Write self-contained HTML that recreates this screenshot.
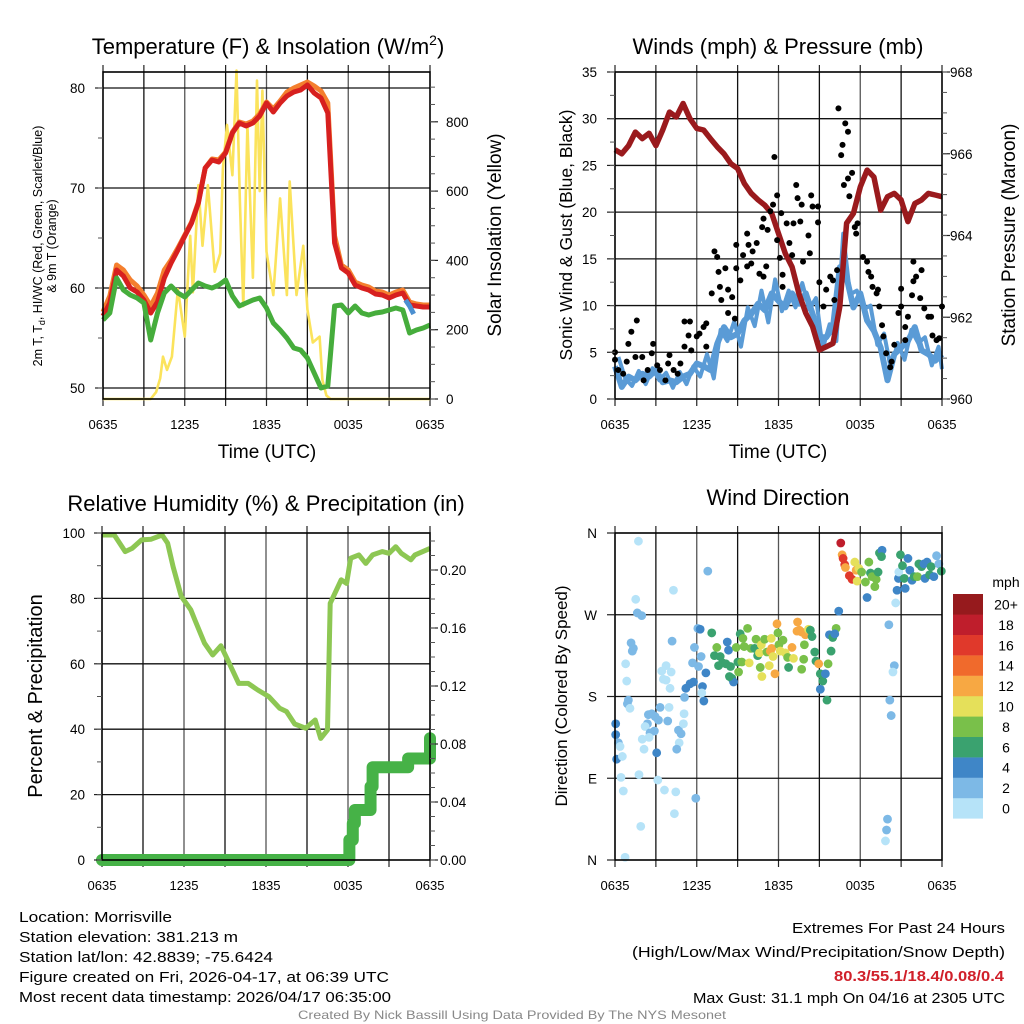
<!DOCTYPE html>
<html><head><meta charset="utf-8"><title>Mesonet Station Plot</title>
<style>
html,body{margin:0;padding:0;background:#fff;}
svg{display:block;font-family:"Liberation Sans",Arial,sans-serif;}
</style></head>
<body>
<svg id="chart" width="1024" height="1024" viewBox="0 0 1024 1024" xmlns="http://www.w3.org/2000/svg">
<rect x="0" y="0" width="1024" height="1024" fill="#fff"/>
<text x="268" y="54" font-size="22" text-anchor="middle">Temperature (F) &amp; Insolation (W/m<tspan font-size="14" dy="-9">2</tspan><tspan dy="9">)</tspan></text>
<text x="778" y="54" font-size="22" text-anchor="middle">Winds (mph) &amp; Pressure (mb)</text>
<text x="266" y="511" font-size="22" text-anchor="middle">Relative Humidity (%) &amp; Precipitation (in)</text>
<text x="778" y="505" font-size="22" text-anchor="middle">Wind Direction</text>
<text transform="translate(42,246) rotate(-90)" font-size="12.5" text-anchor="middle">2m T, T<tspan font-size="9" dy="3">d</tspan><tspan dy="-3">, HI/WC (Red, Green, Scarlet/Blue)</tspan></text>
<text transform="translate(56,246) rotate(-90)" font-size="12.5" text-anchor="middle">&amp; 9m T (Orange)</text>
<text transform="translate(501,235) rotate(-90)" font-size="19" text-anchor="middle">Solar Insolation (Yellow)</text>
<text x="267" y="458" font-size="19" text-anchor="middle">Time (UTC)</text>
<text transform="translate(572,235) rotate(-90)" font-size="17.5" text-anchor="middle">Sonic Wind &amp; Gust (Blue, Black)</text>
<text transform="translate(1015,235) rotate(-90)" font-size="19" text-anchor="middle">Station Pressure (Maroon)</text>
<text x="778" y="458" font-size="19" text-anchor="middle">Time (UTC)</text>
<text transform="translate(42,696) rotate(-90)" font-size="20" text-anchor="middle">Percent &amp; Precipitation</text>
<text transform="translate(567,696) rotate(-90)" font-size="17" text-anchor="middle">Direction (Colored By Speed)</text>
<text x="1006" y="587" font-size="14" text-anchor="middle">mph</text>
<g font-size="14.5">
<text x="19" y="922" textLength="153" lengthAdjust="spacingAndGlyphs">Location: Morrisville</text>
<text x="19" y="942" textLength="219" lengthAdjust="spacingAndGlyphs">Station elevation: 381.213 m</text>
<text x="19" y="962" textLength="254" lengthAdjust="spacingAndGlyphs">Station lat/lon: 42.8839; -75.6424</text>
<text x="19" y="982" textLength="370" lengthAdjust="spacingAndGlyphs">Figure created on Fri, 2026-04-17, at 06:39 UTC</text>
<text x="19" y="1002" textLength="372" lengthAdjust="spacingAndGlyphs">Most recent data timestamp: 2026/04/17 06:35:00</text>
</g>
<g font-size="14.5">
<text x="792" y="933" textLength="213" lengthAdjust="spacingAndGlyphs">Extremes For Past 24 Hours</text>
<text x="632" y="957" textLength="373" lengthAdjust="spacingAndGlyphs">(High/Low/Max Wind/Precipitation/Snow Depth)</text>
<text x="834" y="981" textLength="170" lengthAdjust="spacingAndGlyphs" font-weight="bold" fill="#d0202a">80.3/55.1/18.4/0.08/0.4</text>
<text x="693" y="1003" textLength="312" lengthAdjust="spacingAndGlyphs">Max Gust: 31.1 mph On 04/16 at 2305 UTC</text>
</g>
<text x="512" y="1019" font-size="12" fill="#888" text-anchor="middle" textLength="428" lengthAdjust="spacingAndGlyphs">Created By Nick Bassill Using Data Provided By The NYS Mesonet</text>
</svg>
<script>
var halfHours = [0,0.5,1,1.5,2,2.5,3,3.5,4,4.5,5,5.5,6,6.5,7,7.5,8,8.5,9,9.5,10,10.5,11,11.5,12,12.5,13,13.5,14,14.5,15,15.5,16,16.5,17,17.5,18,18.5,19,19.5,20,20.5,21,21.5,22,22.5,23,23.5,24];
var timeTickHours = [0,6,12,18,24];
var timeTickLabels = ["0635","1235","1835","0035","0635"];
var tempRed = [57.2,58.5,61.8,61.2,60.0,59.6,58.8,57.5,58.6,61,62.5,63.8,65.2,66.5,68.5,72,72.8,72.6,73.5,75.5,76.5,76.2,76.5,77.2,78.5,77.6,78.5,79.2,79.6,79.8,80.3,79.5,79.0,77.5,64.5,62,61.5,60.3,60,59.8,59.4,59.3,59.0,59.3,59.5,58.3,58.2,58.1,58.1];
var tempOrange = [57.6,59.2,62.3,61.8,60.8,60.2,59.3,58.2,59.5,61.8,62.8,64,65.3,66.6,68.6,72,72.9,72.8,73.6,75.6,76.6,76.4,76.7,77.4,78.6,77.9,78.7,79.6,80.0,80.3,80.6,80.2,79.7,78.5,65.2,62.3,61.8,60.6,60.3,60.1,59.7,59.6,59.3,59.6,59.8,58.6,58.4,58.3,58.3];
var dewGreen = [56.8,57.5,61,59.8,59.3,59.0,58.5,54.8,57.5,59.5,60.2,59.5,59.1,59.8,60.5,60.2,60.0,60.3,60.8,59.2,58.2,58.5,58.8,59.0,58.0,56.5,55.8,55.0,54.0,53.8,53.0,51.5,50.0,50.2,58.2,58.3,57.5,58.2,57.5,57.3,57.5,57.6,57.8,58,57.8,55.5,55.8,56,56.3];
var hiwcHours = [22.2,22.5,22.8];
var hiwcValues = [58.8,58.2,57.4];
var solarHours = [0,3.5,3.9,4.2,4.4,4.7,5.06,5.5,6.0,6.4,6.6,7.0,7.3,7.7,8.2,8.6,8.8,9.1,9.5,9.8,10.05,10.3,10.6,11.0,11.3,11.5,11.7,12.0,12.5,13.0,13.5,13.7,14.2,14.7,15.0,15.4,15.9,16.1,16.4,16.7,24];
var solarValues = [0,0,20,60,122,84,122,317,180,471,308,617,442,617,367,420,666,791,646,948,570,268,791,350,919,600,890,425,300,579,300,628,300,442,259,163,180,55,10,0,0];
var tempTicks = [50,60,70,80];
var solarTicks = [0,200,400,600,800];

var windBlue = [3.5,1.3,2.4,2.0,2.7,2.4,3.1,1.8,2.0,1.8,2.4,2.7,3.8,3.5,3.1,5.9,7.7,6.6,7.0,8.4,9.1,10.2,9.5,11.3,10.5,9.8,11.3,10.2,11.3,9.1,6.6,6.6,7.7,14.1,13,9.8,11.3,8.4,7.3,5.5,2.0,4.8,5.5,6.2,7.7,5.2,4.8,4.1,4.8];
var windBlueJitter = [4.5,2.2,1.4,3.0,1.6,3.3,2.0,2.8,1.2,2.9,1.6,3.5,2.4,4.8,2.2,7.4,6.2,8.3,5.6,9.8,7.8,11.6,8.2,12.8,9.4,11.6,9.8,12.4,9.6,10.8,5.4,8.0,6.2,17.7,11.2,11.6,9.6,10.0,5.8,7.0,3.2,6.0,4.2,7.4,6.0,6.6,3.6,5.6,3.2];
var pressure = [966.10,966.0,966.2,966.53,966.37,966.5,966.2,966.58,967.02,966.9,967.23,966.86,966.62,966.58,966.37,966.17,966.0,965.76,965.64,965.27,965.03,964.87,964.74,964.54,964.05,963.56,963.23,962.58,962.1,961.77,961.2,961.28,961.36,962.26,964.3,964.54,965.19,965.6,965.43,964.62,964.95,965.03,964.87,964.34,964.78,964.87,965.03,964.99,964.95];
var gustHours = [0,0,0.24,0.6,0.86,0.98,1.2,1.6,1.5,2.0,2.1,2.4,2.7,2.8,3.1,3.3,3.7,4.0,3.9,4.3,4.6,4.8,5.1,5.5,5.4,5.1,5.6,6.0,6.2,6.5,6.7,6.7,7.1,7.3,7.5,7.6,7.7,7.8,8.1,8.3,8.3,8.6,8.8,8.9,8.9,9.2,9.4,9.7,9.8,9.7,10.0,10.1,10.4,10.6,10.9,10.8,10.9,11.1,11.2,11.4,11.6,11.7,11.9,11.9,12.1,12.2,12.3,12.3,12.6,12.8,13.0,13.1,13.3,13.4,13.6,13.7,13.8,14.2,14.3,14.4,14.5,14.9,14.9,15.0,15.3,15.5,15.8,16.0,16.3,16.1,16.4,16.9,17.1,16.7,16.6,16.8,17.1,17.4,17.2,17.6,17.8,17.7,18.2,18.5,18.6,18.8,18.9,19.2,19.3,19.4,19.6,19.7,19.9,20.2,20.3,20.5,20.8,21.0,21.0,21.3,21.3,21.5,21.8,21.9,21.9,22.1,22.5,22.4,22.7,23.0,23.2,23.3,23.6,23.8,24.0];
var gustValues = [5.0,4.2,3.1,2.7,4.0,5.9,7.2,8.4,4.5,4.5,2.0,3.1,4.9,5.9,3.6,3.1,2.0,4.7,3.8,3.1,2.7,3.8,8.3,8.3,6.8,5.6,5.2,6.7,7.0,7.7,8.1,5.6,11.3,15.8,15.2,13.6,12.0,10.6,14.0,11.7,9.2,10.9,8.6,16.5,14.0,12.7,15.4,17.7,16.5,14.2,14.5,15.8,16.7,13.4,13.1,18.4,19.3,14.2,18.1,20.1,20.8,25.9,21.8,17.0,15.1,19.9,13.3,12.0,18.8,16.7,15.4,18.8,22.9,21.5,19.0,20.8,14.7,17.5,15.6,21.8,20.6,20.6,18.9,12.5,9.9,11.7,13.1,12.7,13.8,10.6,31.1,29.5,28.6,27.2,26.1,22.9,23.6,24.2,21.7,18.4,18.8,17.7,15.2,14.7,13.6,13.1,12.0,11.3,11.7,9.9,7.9,6.7,4.9,3.4,4.0,5.8,9.2,11.8,9.9,7.7,6.3,8.8,11.1,14.7,12.6,13.1,13.8,10.8,9.7,8.8,8.8,6.8,6.3,6.5,9.9];
var windTicks = [0,5,10,15,20,25,30,35];
var pressureTicks = [960,962,964,966,968];

var rhHours = [0,0.9,1.7,2.2,2.9,3.6,4.4,4.8,5.2,5.8,6.5,6.8,7.5,8.1,8.7,9.2,10.0,10.7,11.4,12.2,13.0,13.5,14.1,14.9,15.6,16.0,16.5,16.7,17.5,17.9,18.2,18.8,19.3,19.8,20.5,21.0,21.5,21.9,22.6,22.9,24.0];
var rhValues = [99.4,99.4,94.3,95.3,97.9,98.1,99.4,96.9,89.7,80.6,76.5,73.4,66.3,62.7,65.5,61.2,54.0,54.0,52.0,50.0,46.4,45.4,41.6,40.3,42.8,37.2,39.8,78.5,85.7,84.6,92.3,93.3,90.7,93.3,94.3,93.8,95.8,93.8,91.8,93.3,95.3];
var precipHours = [0,18.05,18.1,18.35,18.5,19.4,19.65,19.8,22.2,22.4,23.9,24];
var precipValues = [0,0,0.0138,0.0253,0.0345,0.0345,0.0506,0.064,0.064,0.070,0.070,0.084];
var rhTicks = [0,20,40,60,80,100];
var precipTicks = [0,0.04,0.08,0.12,0.16,0.20];
var precipTickLabels = ["0.00","0.04","0.08","0.12","0.16","0.20"];

var dirHours = [1.72,6.81,4.29,1.52,1.64,1.96,6.08,6.25,4.19,1.18,1.35,1.27,0.78,3.75,3.43,4.12,0.86,3.55,3.75,4.04,5.83,6.32,5.69,6.13,6.67,6.42,5.76,5.51,5.2,5.1,6.52,6.37,0.98,0.91,1.1,0.05,0.05,0.25,0.37,0.12,0.54,0.44,0.61,1.76,1.89,0.74,2.45,2.7,2.94,3.31,2.38,3.19,3.87,3.97,2.21,2.57,2.89,2.5,2.0,2.13,3.06,4.66,4.85,4.71,5.02,5.07,4.53,3.14,3.63,4.46,4.36,5.93,
7.1,7.47,7.3,7.72,7.9,7.6,8.14,8.24,8.33,8.48,8.58,8.7,8.4,8.9,9.02,9.07,9.19,9.31,9.39,9.48,9.73,9.85,9.98,10.25,10.35,10.47,10.6,10.66,10.74,10.78,10.98,11.15,11.32,11.4,11.5,11.47,11.6,11.74,11.89,11.96,12.03,12.13,12.33,12.5,12.67,12.74,12.99,13.1,13.4,13.36,13.53,13.7,13.97,14.2,14.34,13.9,13.7,13.85,14.46,14.66,14.75,14.95,15.07,15.07,15.25,15.44,15.56,15.64,15.74,15.86,15.98,16.23,16.42,16.13,
16.57,16.67,16.74,16.86,16.91,17.2,17.4,17.6,17.7,17.77,17.9,18.1,18.38,18.5,18.63,18.75,18.87,19.07,19.17,19.31,19.41,19.6,19.56,20.1,20.5,20.4,20.17,20.27,20.0,19.93,19.85,20.6,20.7,20.8,20.83,20.95,21.1,21.23,21.3,21.5,21.64,21.8,21.96,22.2,22.3,22.5,22.67,22.75,22.9,23.09,23.2,23.4,23.6,23.77,23.95];
var dirDegrees = [351,318,297,287,272,269,255,254,241,239,233,230,216,214,208,207,197,199,198,189,234,224,217,213,206,191,196,194,189,179,175,184,176,172,167,150,138,129,125,111,114,91,76,94,37,3,160,161,158,168,150,154,153,168,147,140,142,135,133,122,118,143,139,129,150,161,122,88,77,75,51,68,
250,234,225,224,217,214,216,240,231,213,200,196,202,234,218,207,249,218,244,235,255,217,233,233,243,225,228,212,237,202,243,229,214,230,233,244,224,205,260,250,237,230,242,228,223,212,234,222,262,252,253,251,248,254,253,237,210,221,246,229,219,216,205,188,197,205,176,216,248,230,245,255,274,249,
349,336,332,325,322,313,309,328,319,307,321,317,306,289,328,316,312,301,309,317,338,341,334,259,214,207,176,159,45,33,21,283,297,310,317,336,324,310,299,332,319,308,312,312,326,323,326,310,328,314,323,312,335,326,318];
var dirSpeeds = [1,3,1,1,3,3,3,5,3,3,3,3,1,1,1,1,1,1,1,1,3,3,3,3,5,5,5,5,5,3,5,1,3,3,1,5,5,3,1,5,1,1,1,1,1,1,3,3,3,3,3,3,3,1,1,3,3,1,1,1,5,3,3,1,1,1,3,1,1,1,1,3,
7,9,7,7,7,7,7,5,5,7,7,5,7,9,7,9,7,9,9,9,9,11,9,7,9,7,11,9,11,11,9,9,11,13,13,11,11,13,13,9,9,11,9,11,9,7,13,11,13,13,13,13,13,11,7,9,9,9,7,7,7,13,7,5,7,5,7,9,5,7,7,9,5,5,
19,13,17,17,13,17,17,11,13,11,11,9,9,5,9,7,9,9,9,7,7,5,7,3,3,1,3,3,3,3,1,1,5,5,1,7,7,7,5,5,5,5,7,9,7,7,5,5,5,7,7,5,3,3,7];
var dirTicks = [0,90,180,270,360];
var dirTickLabels = ["N","E","S","W","N"];
var speedBins = [0,2,4,6,8,10,12,14,16,18,20];
var speedBinLabels = ["0","2","4","6","8","10","12","14","16","18","20+"];
var speedColors = ["#b6e3f8","#7db9e6","#3f86c7","#3aa26f","#79c04a","#e5e05a","#f7a843","#f06a2c","#e0392b","#bf1e2c","#961a1d"];

var NS = "http://www.w3.org/2000/svg";
var svg = document.getElementById("chart");
function mk(tag, attrs, parent){
  var e = document.createElementNS(NS, tag);
  for (var k in attrs) e.setAttribute(k, attrs[k]);
  (parent || svg).appendChild(e);
  return e;
}
function panel(x0,x1,y0,y1){ return {x0:x0,x1:x1,y0:y0,y1:y1, tx:function(h){return x0 + h*(x1-x0)/24;}}; }
var P1 = panel(103,430,72,399), P2 = panel(615,942,72,399), P3 = panel(102,430,533,860), P4 = panel(615,942,533,860);
function yTemp(v){ return 88 + (80-v)*10; }
function ySolar(v){ return 399 - v*0.3465; }
function yWind(v){ return 399 - v*9.343; }
function yPres(v){ return 399 - (v-960)*40.875; }
function yRh(v){ return 860 - v*3.27; }
function yPrecip(v){ return 860 - v*1450; }
function yDir(v){ return 860 - v*327/360; }

function pathFrom(xs, ys, fx, fy){
  var d = "";
  for (var i=0;i<xs.length;i++) d += (i?"L":"M") + fx(xs[i]).toFixed(1) + "," + fy(ys[i]).toFixed(1);
  return d;
}

function frame(P, name, hLines, fy){
  var g = mk("g", {});
  
  
  for (var h=3; h<24; h+=3){
    var l = mk("line", {x1:P.tx(h), x2:P.tx(h), y1:P.y0, y2:P.y1, stroke:(h%6===0?"#555":"#111"), "stroke-width":1.3}, g);
    
    
  }
  for (var i=0;i<hLines.length;i++){
    var y = fy(hLines[i]);
    var l2 = mk("line", {x1:P.x0, x2:P.x1, y1:y, y2:y, stroke:"#111", "stroke-width":1.3}, g);
    
    
  }
  for (var h2=0; h2<=24; h2+=3){
    var t1 = mk("line", {x1:P.tx(h2), x2:P.tx(h2), y1:P.y0-7, y2:P.y0, stroke:"#222", "stroke-width":1.2}, g);
    
    
    var t2 = mk("line", {x1:P.tx(h2), x2:P.tx(h2), y1:P.y1, y2:P.y1+7, stroke:"#222", "stroke-width":1.2}, g);
    
    
  }
  for (var j=0;j<timeTickHours.length;j++){
    var tl = mk("text", {x:P.tx(timeTickHours[j]), y:P.y1+30, "font-size":13, "text-anchor":"middle"}, g);
    tl.textContent = timeTickLabels[j];
    
    
  }
}
function box(P, name){
  var r = mk("rect", {x:P.x0, y:P.y0, width:P.x1-P.x0, height:P.y1-P.y0, fill:"none", stroke:"#000", "stroke-width":1.6});
  
  
}
function yAxis(P, side, ticks, labels, fy, minorStep, name, labelX){
  var g = mk("g", {});
  
  
  var x = side==="left" ? P.x0 : P.x1, dir = side==="left" ? -1 : 1;
  for (var i=0;i<ticks.length;i++){
    var y = fy(ticks[i]);
    var t = mk("line", {x1:x, x2:x+dir*8, y1:y, y2:y, stroke:"#222", "stroke-width":1.2}, g);
    
    
    var lb = mk("text", {x:labelX, y:y+5, "font-size":13.5, "text-anchor": side==="left"?"end":"start"}, g);
    lb.textContent = labels[i];
    
    
  }
  if (minorStep){
    var lo = ticks[0], hi = ticks[ticks.length-1] + minorStep*4;
    for (var v=lo; v<=hi+1e-9; v+=minorStep){
      var yy = fy(v);
      if (yy < P.y0-0.5 || yy > P.y1+0.5) continue;
      var m = mk("line", {x1:x, x2:x+dir*5, y1:yy, y2:yy, stroke:"#555", "stroke-width":1}, g);
      
      
    }
  }
}

// Panel 1
frame(P1, "temperature", tempTicks, yTemp);
var solarPath = mk("path", {d:pathFrom(solarHours, solarValues, P1.tx, ySolar), fill:"none", stroke:"#fbe35c", "stroke-width":2.6, "stroke-linejoin":"round"});


var orangePath = mk("path", {d:pathFrom(halfHours, tempOrange, P1.tx, yTemp), fill:"none", stroke:"#f47f2e", "stroke-width":5, "stroke-linejoin":"round"});


var redPath = mk("path", {d:pathFrom(halfHours, tempRed, P1.tx, yTemp), fill:"none", stroke:"#d7201f", "stroke-width":5, "stroke-linejoin":"round"});


var greenPath = mk("path", {d:pathFrom(halfHours, dewGreen, P1.tx, yTemp), fill:"none", stroke:"#46ad3c", "stroke-width":5, "stroke-linejoin":"round"});


var hiwcPath = mk("path", {d:pathFrom(hiwcHours, hiwcValues, P1.tx, yTemp), fill:"none", stroke:"#4b8fd0", "stroke-width":5});


box(P1, "temperature");
yAxis(P1, "left", tempTicks, tempTicks.map(String), yTemp, 5, "temperature-y-axis", 85);
yAxis(P1, "right", solarTicks, solarTicks.map(String), ySolar, 50, "insolation-y-axis", 446);

// Panel 2
frame(P2, "winds", windTicks.slice(1,-1), yWind);
var windPath2 = mk("path", {d:pathFrom(halfHours.map(function(h){return Math.min(24,h+0.25);}), windBlueJitter, P2.tx, yWind), fill:"none", stroke:"#5a9bd6", "stroke-width":4, "stroke-linejoin":"round"});


var windPath = mk("path", {d:pathFrom(halfHours, windBlue, P2.tx, yWind), fill:"none", stroke:"#5a9bd6", "stroke-width":6, "stroke-linejoin":"round"});


var presPath = mk("path", {d:pathFrom(halfHours, pressure, P2.tx, yPres), fill:"none", stroke:"#9a1a1d", "stroke-width":5.5, "stroke-linejoin":"round"});


for (var i=0;i<gustHours.length;i++){
  var c = mk("circle", {cx:P2.tx(gustHours[i]), cy:yWind(gustValues[i]), r:3, fill:"#000"});
  
  
}
box(P2, "winds");
yAxis(P2, "left", windTicks, windTicks.map(String), yWind, 2.5, "wind-y-axis", 597);
yAxis(P2, "right", pressureTicks, pressureTicks.map(String), yPres, 0.5, "pressure-y-axis", 950);

// Panel 3
frame(P3, "humidity", rhTicks.slice(1,-1), yRh);
var rhPath = mk("path", {d:pathFrom(rhHours, rhValues, P3.tx, yRh), fill:"none", stroke:"#8dc753", "stroke-width":5, "stroke-linejoin":"round"});


var pd = "";
for (var k=0;k<precipHours.length;k++){
  var px = P3.tx(precipHours[k]), py = yPrecip(precipValues[k]);
  if (k===0) pd += "M"+px+","+py; else pd += "L"+px+","+yPrecip(precipValues[k-1])+"L"+px+","+py;
}
var precipPath = mk("path", {d:pd, fill:"none", stroke:"#46b247", "stroke-width":12, "stroke-linecap":"round", "stroke-linejoin":"round"});


box(P3, "humidity");
yAxis(P3, "left", rhTicks, rhTicks.map(String), yRh, 10, "humidity-y-axis", 85);
yAxis(P3, "right", precipTicks, precipTickLabels, yPrecip, 0.01, "precipitation-y-axis", 440);

// Panel 4
frame(P4, "direction", dirTicks.slice(1,-1), yDir);
for (var d=0; d<dirHours.length; d++){
  var bin = Math.min(10, Math.floor(dirSpeeds[d]/2));
  var dot = mk("circle", {cx:P4.tx(dirHours[d]), cy:yDir(dirDegrees[d]), r:4.4, fill:speedColors[bin]});
  
  
}
box(P4, "direction");
yAxis(P4, "left", dirTicks, dirTickLabels, yDir, 0, "direction-y-axis", 597);
var lg = mk("g", {});


for (var b=0;b<speedBins.length;b++){
  var swTop = 594 + (10-b)*20.4;
  var sw = mk("rect", {x:953, y:swTop, width:30, height:20.6, fill:speedColors[b]}, lg);
  
  
  var st = mk("text", {x:1006, y:swTop+15.5, "font-size":14, "text-anchor":"middle"}, lg);
  st.textContent = speedBinLabels[b];
  
  
}
</script>
</body></html>
